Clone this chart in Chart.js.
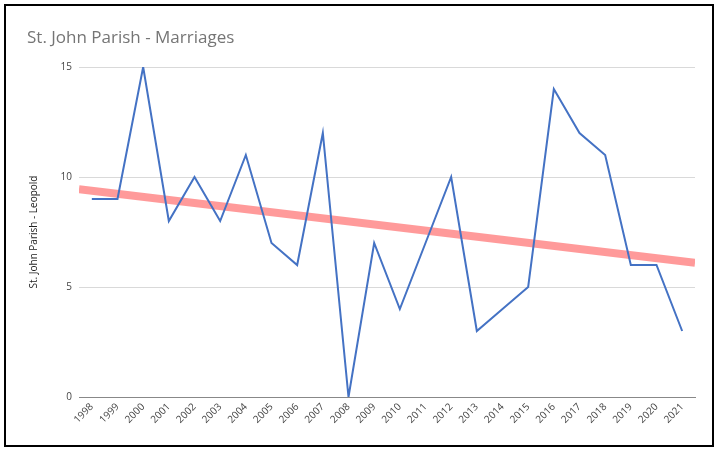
<!DOCTYPE html>
<html><head><meta charset="utf-8">
<script src="https://cdn.jsdelivr.net/npm/chart.js@4.4.0/dist/chart.umd.min.js"></script>
<style>
html,body{margin:0;padding:0;background:#fff;}
#wrap{position:relative;width:718px;height:449px;}
#frame{position:absolute;left:4px;top:4px;width:706px;height:439px;border:2px solid #000;pointer-events:none;}
canvas{position:absolute;left:0;top:0;}
</style></head>
<body>
<div id="wrap"><canvas id="c" width="718" height="449"></canvas><div id="frame"></div></div>
<script>
const years = ['1998','1999','2000','2001','2002','2003','2004','2005','2006','2007','2008','2009','2010','2011','2012','2013','2014','2015','2016','2017','2018','2019','2020','2021'];
const marriages = [9,9,15,8,10,8,11,7,6,12,0,7,4,7,10,3,4,5,14,12,11,6,6,3];
const trendX = [-0.5, 23.5];
const trendY = [9.45, 6.1];
const yTicks = [0,5,10,15];
const chartTitle = 'St. John Parish - Marriages';
const yTitle = 'St. John Parish - Leopold';

const titlePlugin = {
  id:'t',
  afterDraw(chart){
    const ctx = chart.ctx;
    ctx.save();
    ctx.font = '17px "Open Sans", sans-serif';
    ctx.fillStyle = '#757575';
    ctx.textBaseline = 'middle';
    ctx.textAlign = 'left';
    ctx.fillText(chartTitle, 27, 38);
    ctx.restore();
  }
};

new Chart(document.getElementById('c'), {
  type:'line',
  data:{
    labels: years,
    datasets:[
      {data: trendX.map((x,i)=>({x:x,y:trendY[i]})), xAxisID:'x2', borderColor:'rgba(255,120,120,0.75)', borderWidth:8, pointRadius:0, tension:0, order:2},
      {data: marriages, borderColor:'#4472C4', borderWidth:2, pointRadius:0, tension:0, order:1}
    ]
  },
  options:{
    responsive:false, animation:false,
    layout:{padding:{left:23, right:23, top:67, bottom:0}},
    plugins:{legend:{display:false}, tooltip:{enabled:false}},
    scales:{
      x:{
        offset:true,
        grid:{display:false, drawTicks:false},
        border:{display:true, color:'#888', width:1},
        ticks:{minRotation:45, maxRotation:45, color:'#444', font:{family:'"Open Sans", sans-serif', size:10}, padding:4, autoSkip:false},
        afterFit(s){ s.height = 52; }
      },
      x2:{type:'linear', min:-0.5, max:23.5, display:false},
      y:{
        min:0, max:15,
        afterBuildTicks(s){ s.ticks = yTicks.map(v=>({value:v})); },
        grid:{color:(c)=> c.tick && c.tick.value===0 ? '#888' : '#d9d9d9', drawTicks:false},
        border:{display:false},
        ticks:{color:'#444', font:{family:'"Open Sans", sans-serif', size:10}, padding:7},
        title:{display:true, text:yTitle, color:'#222', font:{family:'"Open Sans", sans-serif', size:10}, padding:{top:5,bottom:0}},
        afterFit(s){ s.width = 56; }
      }
    }
  },
  plugins:[titlePlugin]
});
</script>
</body></html>
